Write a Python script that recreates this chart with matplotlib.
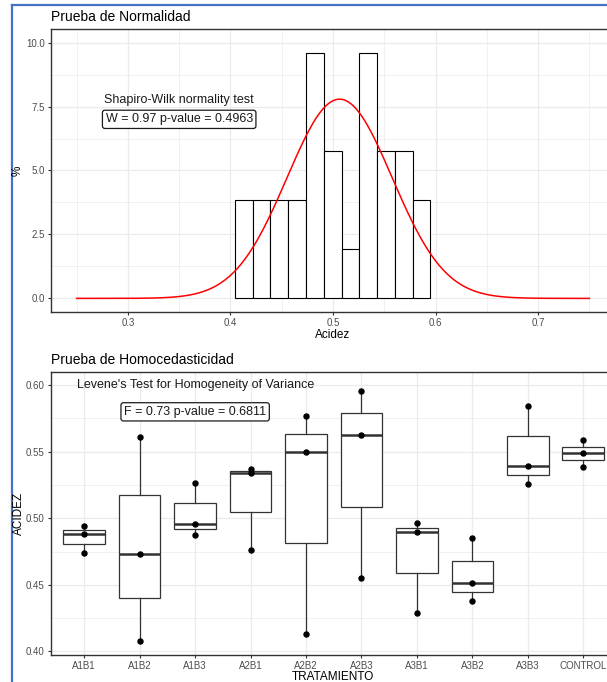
import numpy as np
import matplotlib
matplotlib.use("Agg")
from matplotlib import pyplot as plt
from matplotlib.ticker import MultipleLocator, FormatStrFormatter
from matplotlib.lines import Line2D

plt.rcParams['font.family'] = ['Liberation Sans', 'DejaVu Sans']

## data
tratamientos = ["A1B1", "A1B2", "A1B3", "A2B1", "A2B2",
                "A2B3", "A3B1", "A3B2", "A3B3", "CONTROL"]
acidez = [
    [0.4942, 0.4882, 0.4737],
    [0.5614, 0.4729, 0.4078],
    [0.5266, 0.4960, 0.4877],
    [0.5374, 0.5338, 0.4762],
    [0.5772, 0.5501, 0.4128],
    [0.5953, 0.5626, 0.4549],
    [0.4965, 0.4895, 0.4288],
    [0.4850, 0.4511, 0.4378],
    [0.5847, 0.5391, 0.5256],
    [0.5589, 0.5489, 0.5383],
]
bin_start = 0.4043
bin_width = 0.01734
bin_counts = [2, 2, 2, 2, 5, 3, 1, 5, 3, 3, 2]
shapiro_txt = "W = 0.97 p-value = 0.4963"
levene_txt = "F = 0.73 p-value = 0.6811"

W, H = 607, 682
fig = plt.figure(figsize=(W / 100, H / 100), dpi=100)


def fx(px):
    return px / W


def fy(py):
    return 1 - py / H


grid_c = '#EBEBEB'
dark = '#333333'
tick_c = '#4D4D4D'


def style(ax):
    for s in ax.spines.values():
        s.set_color(dark)
        s.set_linewidth(1.0)
    ax.grid(which='major', color=grid_c, lw=0.9)
    ax.grid(which='minor', color=grid_c, lw=0.5)
    ax.set_axisbelow(True)
    ax.tick_params(which='major', length=2.5, width=0.8, color=dark,
                   labelsize=7, labelcolor=tick_c, pad=2)
    ax.tick_params(which='minor', length=0)


# ---- histogram panel
ax1 = fig.add_axes([fx(51), fy(311.7), fx(615 - 51), (311.7 - 29.3) / H])
todos = np.concatenate([np.array(g) for g in acidez])
n = len(todos)
edges = bin_start + bin_width * np.arange(len(bin_counts))
dens = np.array(bin_counts) / (n * bin_width)
ax1.bar(edges, dens, width=bin_width, align='edge', facecolor='white',
        edgecolor='black', linewidth=0.8, zorder=2)
media = todos.mean()
desv = todos.std(ddof=1)
xs = np.linspace(0.25, 0.75, 400)
ys = np.exp(-0.5 * ((xs - media) / desv) ** 2) / (desv * np.sqrt(2 * np.pi))
ax1.plot(xs, ys, color='red', lw=1.1, zorder=3)
ax1.set_xlim(0.225, 0.775)
ax1.set_ylim(-0.52, 10.52)
ax1.xaxis.set_major_locator(MultipleLocator(0.1))
ax1.xaxis.set_minor_locator(MultipleLocator(0.05))
ax1.yaxis.set_major_locator(MultipleLocator(2.5))
ax1.yaxis.set_minor_locator(MultipleLocator(1.25))
ax1.xaxis.set_major_formatter(FormatStrFormatter('%.1f'))
ax1.yaxis.set_major_formatter(FormatStrFormatter('%.1f'))
style(ax1)
ax1.text(0.35, 7.75, "Shapiro-Wilk normality test", ha='center', va='center',
         fontsize=9, color='#1a1a1a')
ax1.text(0.35, 7.0, shapiro_txt, ha='center', va='center', fontsize=9,
         color='#1a1a1a',
         bbox=dict(boxstyle='round,pad=0.25,rounding_size=0.2',
                   facecolor='white', edgecolor='#1a1a1a', lw=0.9))

# ---- boxplot panel
ax2 = fig.add_axes([fx(51), fy(655), fx(616.5 - 51), (655 - 372.3) / H])
pos = np.arange(1, len(tratamientos) + 1)
ax2.boxplot(acidez, positions=pos, widths=0.75, patch_artist=True,
            showcaps=False, showfliers=False,
            boxprops=dict(facecolor='white', edgecolor=dark, lw=0.9),
            medianprops=dict(color=dark, lw=1.8),
            whiskerprops=dict(color=dark, lw=0.9), zorder=2)
for p, vals in zip(pos, acidez):
    ax2.plot(np.full(len(vals), p), vals, 'o', color='black', ms=3.6,
             zorder=3)
ax2.set_xlim(0.4, len(tratamientos) + 0.6)
ax2.set_ylim(0.3973, 0.6097)
ax2.set_xticks(pos)
ax2.set_xticklabels(tratamientos)
ax2.yaxis.set_major_locator(MultipleLocator(0.05))
ax2.yaxis.set_minor_locator(MultipleLocator(0.025))
ax2.yaxis.set_major_formatter(FormatStrFormatter('%.2f'))
style(ax2)
ax2.text(3, 0.60, "Levene's Test for Homogeneity of Variance", ha='center',
         va='center', fontsize=9, color='#1a1a1a')
ax2.text(3, 0.58, levene_txt, ha='center', va='center', fontsize=9,
         color='#1a1a1a',
         bbox=dict(boxstyle='round,pad=0.25,rounding_size=0.2',
                   facecolor='white', edgecolor='#1a1a1a', lw=0.9))

# titles and axis labels
fig.text(fx(51), fy(20.7), "Prueba de Normalidad", fontsize=10,
         va='baseline', color='black')
fig.text(fx(51), fy(364), "Prueba de Homocedasticidad", fontsize=10,
         va='baseline', color='black')
fig.text(fx(333), fy(335), "Acidez", fontsize=8.5, ha='center',
         va='center')
fig.text(fx(18), fy(170.5), "%", fontsize=8.5, ha='center', va='center',
         rotation=90)
fig.text(fx(18.5), fy(513.5), "ACIDEZ", fontsize=8.5, ha='center',
         va='center', rotation=90)
fig.text(fx(333), fy(677.5), "TRATAMIENTO", fontsize=8.5, ha='center',
         va='center')

# screenshot frame
azul = '#4472C4'
fig.add_artist(Line2D([fx(11.7), fx(11.7)], [fy(5), 0], color=azul, lw=1.6))
fig.add_artist(Line2D([fx(11.7), 1], [fy(5), fy(5)], color=azul, lw=1.6))

fig.savefig("out.png", dpi=100)
